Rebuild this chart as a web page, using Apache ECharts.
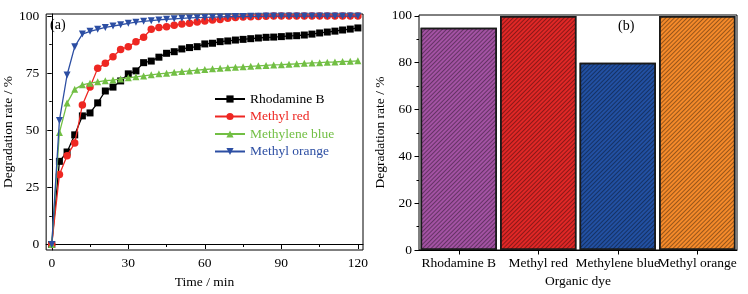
<!DOCTYPE html>
<html><head><meta charset="utf-8">
<script src="https://cdn.jsdelivr.net/npm/echarts@6/dist/echarts.min.js"></script>
<style>html,body{margin:0;padding:0;background:#fff}#c{width:748px;height:294px}</style>
</head><body><div id="c"></div>
<script>
const times = [0,3,6,9,12,15,18,21,24,27,30,33,36,39,42,45,48,51,54,57,60,63,66,69,72,75,78,81,84,87,90,93,96,99,102,105,108,111,114,117,120];
const rhodamineB = [0,36.4,40.5,48,56.3,57.6,62,67.2,68.9,71.6,74.7,76,79.6,80.3,82,83.7,84.4,85.6,86.2,86.6,87.8,88.1,88.8,89.1,89.5,89.8,90.1,90.4,90.7,90.8,91,91.3,91.4,91.7,92.1,92.6,93,93.4,93.9,94.3,94.8];
const methylRed = [0,30.6,38.9,44.4,61.1,68.9,77.1,79.3,82.2,85.4,86.6,88.8,90.7,94.2,95,95.3,96,96.5,96.8,97.4,97.8,98.3,98.5,99,99.4,99.6,99.7,99.8,99.9,100,100,100,100,100,100,100,100,100,100,100,100];
const methyleneBlue = [0,49,61.9,68,69.9,70.6,71.2,71.7,72,72.5,73,73.4,73.8,74.3,74.7,75,75.4,75.7,76,76.3,76.6,76.9,77.1,77.4,77.6,77.8,78,78.2,78.4,78.6,78.7,78.9,79.1,79.3,79.5,79.6,79.8,79.9,80.1,80.2,80.4];
const methylOrange = [0,54.3,74.2,86.6,92.1,93.3,94.2,95,95.6,96.2,96.8,97.3,97.7,98,98.3,98.6,98.8,99,99.2,99.3,99.4,99.5,99.6,99.7,99.8,99.8,99.9,99.9,100,100,100,100,100,100,100,100,100,100,100,100,100];
const seriesNames = ['Rhodamine B','Methyl red','Methylene blue','Methyl orange'];
const dyes = ['Rhodamine B','Methyl red','Methylene blue','Methyl orange'];
const finalRates = [95,100,80,100];
const xTicksA = [0,30,60,90,120];
const xMinorA = [15,45,75,105];
const yTicksA = [0,25,50,75,100];
const yMinorA = [12.5,37.5,62.5,87.5];
const yTicksB = [0,20,40,60,80,100];
const yMinorB = [10,30,50,70,90];

const FONT = 'Liberation Serif';
const lineColors = ['#000000','#ee2722','#72bf44','#2c4ea3'];
const symbols = ['rect','circle','triangle','path://M0,0L10,0L5,9Z'];
const barColors = ['#a352a3','#e02726','#2250a2','#f58a2a'];

const chart = echarts.init(document.getElementById('c'), null, {renderer:'canvas'});
const lab = {fontFamily: FONT, fontSize: 13.5, color: '#000'};
const ax = {lineStyle:{color:'#000', width:1}};

function pairs(ys){ return times.map((t,i)=>[t, ys[i]]); }
const lineData = [rhodamineB, methylRed, methyleneBlue, methylOrange];

const option = {
  animation: false,
  textStyle: {fontFamily: FONT},
  grid: [
    {left: 42, right: 385, top: 14, bottom: 43, show: true, borderColor: '#000', borderWidth: 1, backgroundColor: 'transparent'},
    {left: 419, right: 11, top: 15, bottom: 44, show: true, borderColor: '#000', borderWidth: 1, backgroundColor: 'transparent'}
  ],
  xAxis: [
    {type:'value', gridIndex:0, position:'bottom', min:-2.2, max:122, splitLine:{show:false},
     axisLine: ax, axisTick:{show:true, length:4.5, lineStyle:{color:'#000'}, customValues: xTicksA},
     axisLabel:{...lab, margin:6, customValues: xTicksA},
     name:'Time / min', nameLocation:'middle', nameGap:25, nameTextStyle:{...lab}},
    {type:'value', gridIndex:0, position:'bottom', min:-2.2, max:122, splitLine:{show:false},
     axisLine:{show:false}, axisTick:{show:true, length:2.5, lineStyle:{color:'#000'}, customValues: xMinorA},
     axisLabel:{show:false, customValues: xMinorA}},
    {type:'category', gridIndex:1, position:'bottom', data: dyes, boundaryGap:true,
     axisLine: ax, axisTick:{show:true, alignWithLabel:true, length:4.5, lineStyle:{color:'#000'}},
     axisLabel:{...lab, margin:6, interval:0},
     name:'Organic dye', nameLocation:'middle', nameGap:24, nameTextStyle:{...lab}}
  ],
  yAxis: [
    {type:'value', gridIndex:0, position:'left', min:-2.4, max:100.9, splitLine:{show:false},
     axisLine: ax, axisTick:{show:true, length:4.5, lineStyle:{color:'#000'}, customValues: yTicksA},
     axisLabel:{...lab, margin:7, customValues: yTicksA},
     name:'Degradation rate / %', nameLocation:'middle', nameGap:21, nameTextStyle:{...lab}},
    {type:'value', gridIndex:0, position:'left', offset:0, min:-2.4, max:100.9, splitLine:{show:false},
     axisLine:{show:false}, axisTick:{show:true, length:2.5, lineStyle:{color:'#000'}, customValues: yMinorA},
     axisLabel:{show:false, customValues: yMinorA}},
    {type:'value', gridIndex:1, position:'left', min:0, max:100.4, splitLine:{show:false},
     axisLine: ax, axisTick:{show:true, length:4.5, lineStyle:{color:'#000'}, customValues: yTicksB},
     axisLabel:{...lab, margin:7, customValues: yTicksB},
     name:'Degradation rate / %', nameLocation:'middle', nameGap:20, nameTextStyle:{...lab}},
    {type:'value', gridIndex:1, position:'left', offset:0, min:0, max:100.4, splitLine:{show:false},
     axisLine:{show:false}, axisTick:{show:true, length:2.5, lineStyle:{color:'#000'}, customValues: yMinorB},
     axisLabel:{show:false, customValues: yMinorB}}
  ],
  legend: {
    orient:'vertical', left: 214, top: 92, itemWidth: 30, itemHeight: 9, itemGap: 3.5, padding: 0,
    textStyle:{...lab},
    data: seriesNames.map((n,i)=>({name:n, textStyle:{color: lineColors[i], fontFamily: FONT, fontSize: 13.5}}))
  },
  series: [
    ...seriesNames.map((n,i)=>({
      type:'line', name:n, xAxisIndex:0, yAxisIndex:0, data: pairs(lineData[i]),
      symbol: symbols[i], symbolSize: i===1 ? 7.5 : 7, showAllSymbol:true,
      lineStyle:{color: lineColors[i], width:1.3}, itemStyle:{color: lineColors[i]}, z: 2+i
    })),
    {type:'bar', name:'final', xAxisIndex:2, yAxisIndex:2, barCategoryGap:'4%',
     data: finalRates.map((v,i)=>({value:v, itemStyle:{color: barColors[i], borderColor:'#1a1a1a', borderWidth:1.5,
       decal:{symbol:'rect', dashArrayX:[1,0], dashArrayY:[1,2], rotation:-Math.PI/4, color:'rgba(0,0,0,0.38)', symbolSize:1}}})) }
  ],
  graphic: [
    {type:'text', left: 50, top: 18, style:{text:'(a)', font:'14px "Liberation Serif"', fill:'#000'}},
    {type:'text', left: 618, top: 19, style:{text:'(b)', font:'14px "Liberation Serif"', fill:'#000'}}
  ]
};
chart.setOption(option);
</script></body></html>
